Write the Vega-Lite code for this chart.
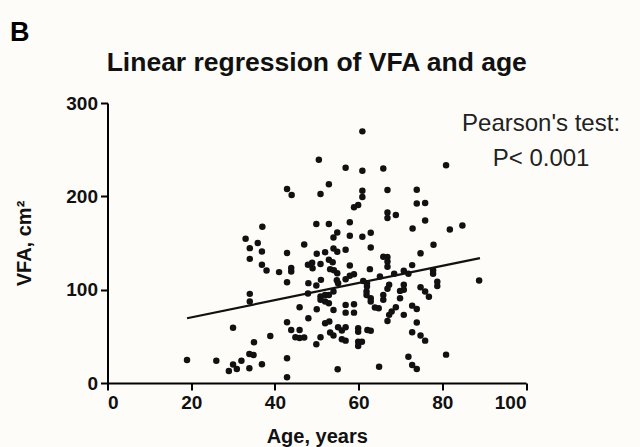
{
  "$schema": "https://vega.github.io/schema/vega-lite/v6.json",
  "width": 418.5,
  "height": 280,
  "autosize": {"type": "none"},
  "padding": {"left": 107.5, "top": 103, "right": 114, "bottom": 64},
  "background": "#fdfcf9",
  "title": {"text": "Linear regression of VFA and age", "font": "Liberation Sans", "fontSize": 26.5, "fontWeight": "bold", "color": "#111111", "anchor": "middle", "frame": "group", "offset": 0, "dy": 57},
  "config": {
    "view": {"stroke": null},
    "axis": {"domainColor": "#000000", "domainWidth": 2, "tickColor": "#000000", "tickWidth": 2, "tickSize": 7, "labelFont": "Liberation Sans", "labelFontSize": 19, "labelFontWeight": "bold", "labelColor": "#111111", "labelPadding": 3, "titleFont": "Liberation Sans", "titleFontSize": 20, "titleFontWeight": "bold", "titleColor": "#111111", "grid": false}
  },
  "datasets": {
    "pts": [
      {"age":19.0,"vfa":24.7},{"age":26.0,"vfa":23.9},{"age":29.0,"vfa":12.9},{"age":30.0,"vfa":19.8},{"age":30.9,"vfa":15.0},
      {"age":32.0,"vfa":23.9},{"age":30.0,"vfa":59.3},{"age":33.9,"vfa":31.1},{"age":34.9,"vfa":30.0},{"age":33.9,"vfa":15.8},
      {"age":35.0,"vfa":43.7},{"age":36.9,"vfa":20.2},{"age":38.9,"vfa":50.4},{"age":33.0,"vfa":154.5},{"age":34.0,"vfa":144.5},
      {"age":35.9,"vfa":149.9},{"age":36.9,"vfa":140.9},{"age":34.0,"vfa":133.0},{"age":36.9,"vfa":126.6},{"age":38.0,"vfa":120.5},
      {"age":41.0,"vfa":118.8},{"age":42.9,"vfa":139.2},{"age":43.9,"vfa":123.1},{"age":43.9,"vfa":119.4},{"age":42.9,"vfa":108.0},
      {"age":34.0,"vfa":95.5},{"age":34.0,"vfa":87.2},{"age":42.9,"vfa":65.1},{"age":43.9,"vfa":56.9},{"age":45.9,"vfa":56.9},
      {"age":44.9,"vfa":49.0},{"age":45.9,"vfa":48.3},{"age":47.0,"vfa":48.8},{"age":42.9,"vfa":26.5},{"age":42.9,"vfa":6.1},
      {"age":37.0,"vfa":167.4},{"age":42.9,"vfa":207.8},{"age":44.0,"vfa":201.4},{"age":45.9,"vfa":81.2},{"age":50.5,"vfa":239.3},
      {"age":50.9,"vfa":202.5},{"age":49.9,"vfa":170.3},{"age":60.9,"vfa":269.6},{"age":56.9,"vfa":230.7},{"age":60.9,"vfa":227.5},
      {"age":65.9,"vfa":229.9},{"age":80.9,"vfa":233.4},{"age":52.9,"vfa":213.0},{"age":60.9,"vfa":206.0},{"age":60.9,"vfa":199.2},
      {"age":66.9,"vfa":206.8},{"age":73.9,"vfa":207.1},{"age":73.9,"vfa":192.3},{"age":75.9,"vfa":192.9},{"age":58.9,"vfa":188.3},
      {"age":59.9,"vfa":190.8},{"age":66.9,"vfa":182.7},{"age":66.9,"vfa":176.7},{"age":68.9,"vfa":180.0},{"age":75.9,"vfa":174.1},
      {"age":72.9,"vfa":165.6},{"age":81.8,"vfa":164.5},{"age":84.8,"vfa":168.7},{"age":52.9,"vfa":170.3},{"age":57.9,"vfa":172.2},
      {"age":54.9,"vfa":161.2},{"age":54.0,"vfa":155.8},{"age":57.9,"vfa":157.7},{"age":60.9,"vfa":156.7},{"age":62.9,"vfa":160.9},
      {"age":47.0,"vfa":148.3},{"age":50.0,"vfa":138.4},{"age":52.0,"vfa":140.2},{"age":54.0,"vfa":144.0},{"age":54.9,"vfa":140.6},
      {"age":56.9,"vfa":142.7},{"age":62.9,"vfa":145.2},{"age":77.9,"vfa":148.1},{"age":74.8,"vfa":138.9},{"age":47.9,"vfa":126.6},
      {"age":48.9,"vfa":128.8},{"age":49.0,"vfa":122.9},{"age":50.9,"vfa":127.4},{"age":52.9,"vfa":132.0},{"age":53.8,"vfa":129.3},
      {"age":53.2,"vfa":122.0},{"age":54.1,"vfa":120.7},{"age":54.9,"vfa":117.7},{"age":57.9,"vfa":125.9},{"age":57.9,"vfa":114.8},
      {"age":58.9,"vfa":116.6},{"age":56.9,"vfa":111.1},{"age":54.8,"vfa":110.0},{"age":55.1,"vfa":106.8},{"age":48.0,"vfa":107.0},
      {"age":49.9,"vfa":104.4},{"age":51.0,"vfa":110.5},{"age":47.9,"vfa":96.0},{"age":62.7,"vfa":122.0},{"age":65.1,"vfa":114.1},
      {"age":65.9,"vfa":135.2},{"age":66.9,"vfa":134.9},{"age":66.9,"vfa":130.2},{"age":66.9,"vfa":124.5},{"age":61.1,"vfa":109.4},
      {"age":62.0,"vfa":107.0},{"age":62.0,"vfa":103.3},{"age":67.3,"vfa":105.2},{"age":66.9,"vfa":100.9},{"age":68.5,"vfa":117.0},
      {"age":69.9,"vfa":98.7},{"age":70.8,"vfa":105.2},{"age":70.8,"vfa":99.8},{"age":69.9,"vfa":90.9},{"age":70.8,"vfa":120.2},
      {"age":71.9,"vfa":117.0},{"age":72.8,"vfa":126.3},{"age":77.8,"vfa":120.7},{"age":77.8,"vfa":117.0},{"age":78.8,"vfa":108.4},
      {"age":78.8,"vfa":103.8},{"age":74.8,"vfa":102.7},{"age":75.9,"vfa":98.0},{"age":76.8,"vfa":92.3},{"age":88.8,"vfa":109.8},
      {"age":72.8,"vfa":82.9},{"age":73.9,"vfa":79.4},{"age":70.8,"vfa":73.0},{"age":73.9,"vfa":64.7},{"age":72.8,"vfa":54.4},
      {"age":74.8,"vfa":50.8},{"age":75.9,"vfa":45.4},{"age":71.9,"vfa":28.2},{"age":72.8,"vfa":19.3},{"age":73.9,"vfa":15.0},
      {"age":80.9,"vfa":30.4},{"age":64.9,"vfa":17.5},{"age":55.0,"vfa":14.7},{"age":50.0,"vfa":79.1},{"age":48.0,"vfa":69.4},
      {"age":50.9,"vfa":92.6},{"age":52.0,"vfa":87.2},{"age":52.9,"vfa":85.5},{"age":50.9,"vfa":89.1},{"age":54.0,"vfa":78.3},
      {"age":52.0,"vfa":94.4},{"age":56.9,"vfa":83.7},{"age":58.9,"vfa":84.4},{"age":56.9,"vfa":75.4},{"age":58.9,"vfa":75.4},
      {"age":52.0,"vfa":64.1},{"age":53.0,"vfa":65.8},{"age":55.1,"vfa":59.8},{"age":56.0,"vfa":56.3},{"age":56.9,"vfa":59.8},
      {"age":53.2,"vfa":54.0},{"age":54.0,"vfa":51.0},{"age":50.9,"vfa":49.0},{"age":49.9,"vfa":41.5},{"age":56.0,"vfa":46.9},
      {"age":56.9,"vfa":45.4},{"age":59.9,"vfa":58.7},{"age":59.9,"vfa":55.0},{"age":62.1,"vfa":56.9},{"age":62.9,"vfa":56.1},
      {"age":59.9,"vfa":44.3},{"age":60.8,"vfa":44.3},{"age":59.9,"vfa":39.7},{"age":62.9,"vfa":90.9},{"age":62.9,"vfa":87.2},
      {"age":61.9,"vfa":98.0},{"age":61.9,"vfa":94.4},{"age":63.9,"vfa":81.0},{"age":64.8,"vfa":80.2},{"age":65.9,"vfa":94.4},
      {"age":65.9,"vfa":89.1},{"age":67.9,"vfa":76.5},{"age":67.3,"vfa":73.0},{"age":66.9,"vfa":66.5},{"age":68.9,"vfa":81.2},
      {"age":54.0,"vfa":98.0},{"age":52.9,"vfa":94.4}
    ],
    "fit": [{"age":19,"vfa":69.4},{"age":89,"vfa":133.8}]
  },
  "layer": [
    {
      "data": {"name": "pts"},
      "mark": {"type": "circle", "size": 42, "color": "#111111", "opacity": 1},
      "encoding": {
        "x": {"field": "age", "type": "quantitative", "scale": {"domain": [0, 100], "nice": false, "zero": false}, "axis": {"values": [0, 20, 40, 60, 80, 100], "title": "Age, years", "titlePadding": 14}},
        "y": {"field": "vfa", "type": "quantitative", "scale": {"domain": [0, 300], "nice": false}, "axis": {"values": [0, 100, 200, 300], "title": "VFA, cm²", "titlePadding": 31}}
      }
    },
    {
      "data": {"name": "fit"},
      "mark": {"type": "line", "color": "#111111", "strokeWidth": 2.2},
      "encoding": {
        "x": {"field": "age", "type": "quantitative"},
        "y": {"field": "vfa", "type": "quantitative"}
      }
    },
    {
      "data": {"values": [{"label": "Pearson's test:"}]},
      "mark": {"type": "text", "font": "Liberation Sans", "fontSize": 24, "color": "#222222", "align": "center", "baseline": "alphabetic"},
      "encoding": {"x": {"datum": 103.6}, "y": {"datum": 270.4}, "text": {"field": "label"}}
    },
    {
      "data": {"values": [{"label": "P< 0.001"}]},
      "mark": {"type": "text", "font": "Liberation Sans", "fontSize": 24, "color": "#222222", "align": "center", "baseline": "alphabetic"},
      "encoding": {"x": {"datum": 103.6}, "y": {"datum": 232.7}, "text": {"field": "label"}}
    },
    {
      "data": {"values": [{"label": "B"}]},
      "mark": {"type": "text", "font": "Liberation Sans", "fontSize": 27, "fontWeight": "bold", "color": "#000000", "align": "left", "baseline": "alphabetic"},
      "encoding": {"x": {"datum": -23.3}, "y": {"datum": 365.9}, "text": {"field": "label"}}
    }
  ]
}
